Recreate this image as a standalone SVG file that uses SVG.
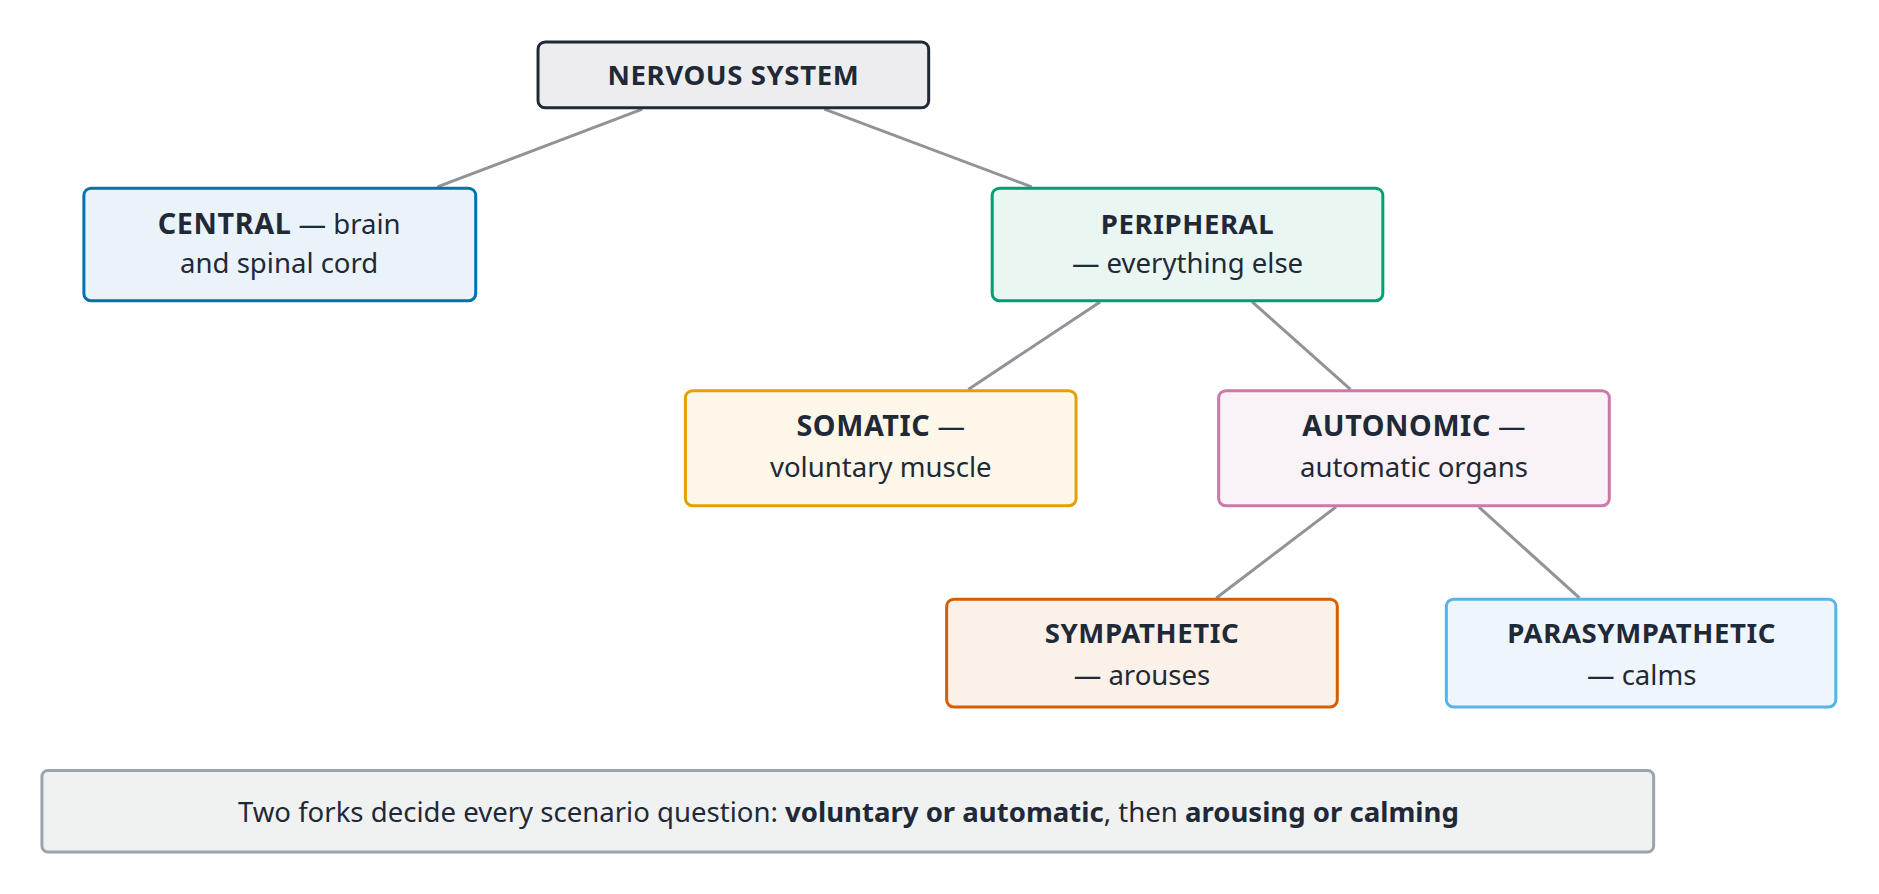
<svg xmlns="http://www.w3.org/2000/svg" width="1879" height="894" viewBox="0 0 1879 894">
<style>
text{font-family:"Noto Sans","DejaVu Sans",sans-serif;fill:#1f2937;text-anchor:middle;font-size:23px}
.b{font-weight:bold;letter-spacing:0.5px}
rect{stroke-width:2.5}
line{stroke:#909499;stroke-width:2.5}
</style>
<rect width="1879" height="894" fill="#fff"/>
<g transform="scale(1.1983)">
<g id="connectors">
<line x1="536" y1="91" x2="365" y2="156"/>
<line x1="688" y1="91" x2="861" y2="156"/>
<line x1="918" y1="252" x2="808" y2="325"/>
<line x1="1045" y1="252" x2="1127" y2="325"/>
<line x1="1115" y1="423" x2="1015" y2="499"/>
<line x1="1234" y1="423" x2="1318" y2="499"/>
</g>
<g id="nervous"><rect x="449" y="35" width="326" height="55" rx="6" fill="#ededf0" stroke="#1f2937"/><text x="612" y="71" class="b" font-size="24">NERVOUS SYSTEM</text></g>
<g id="central"><rect x="70" y="157" width="327" height="94" rx="6" fill="#eaf3f9" stroke="#0072b2"/><text x="233" y="195"><tspan class="b" font-size="24">CENTRAL</tspan> — brain</text><text x="233" y="228">and spinal cord</text></g>
<g id="peripheral"><rect x="828" y="157" width="326" height="94" rx="6" fill="#e9f6f1" stroke="#009e73"/><text x="991" y="195" class="b" font-size="24">PERIPHERAL</text><text x="991" y="228">— everything else</text></g>
<g id="somatic"><rect x="572" y="326" width="326" height="96" rx="6" fill="#fdf7ea" stroke="#e69f00"/><text x="735" y="364"><tspan class="b" font-size="24">SOMATIC</tspan> —</text><text x="735" y="398">voluntary muscle</text></g>
<g id="autonomic"><rect x="1017" y="326" width="326" height="96" rx="6" fill="#f9f2f6" stroke="#cc79a7"/><text x="1180" y="364"><tspan class="b" font-size="24">AUTONOMIC</tspan> —</text><text x="1180" y="398">automatic organs</text></g>
<g id="sympathetic"><rect x="790" y="500" width="326" height="90" rx="6" fill="#fbf1e8" stroke="#d55e00"/><text x="953" y="537" class="b" font-size="24">SYMPATHETIC</text><text x="953" y="572">— arouses</text></g>
<g id="parasympathetic"><rect x="1207" y="500" width="325" height="90" rx="6" fill="#eef6fc" stroke="#56b4e9"/><text x="1370" y="537" class="b" font-size="24">PARASYMPATHETIC</text><text x="1370" y="572">— calms</text></g>
<g id="note"><rect x="35" y="643" width="1345" height="68" rx="5" fill="#f0f2f2" stroke="#9ca3af" stroke-width="2"/><text x="708" y="686" font-size="26">Two forks decide every scenario question: <tspan font-weight="bold">voluntary or automatic</tspan>, then <tspan font-weight="bold">arousing or calming</tspan></text></g>
</g>
</svg>
